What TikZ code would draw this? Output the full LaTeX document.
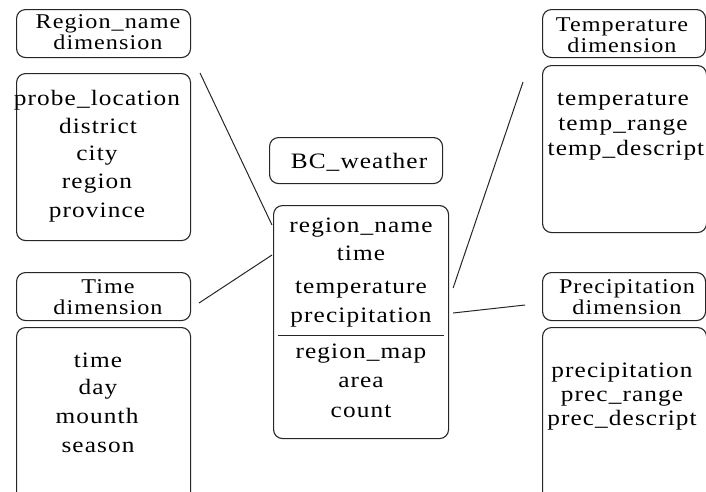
\documentclass[tikz,border=0pt]{standalone}
\usepackage{fontspec}
\newfontfamily\diagfont{Liberation Serif}[FakeStretch=1.15,LetterSpace=5]
\begin{document}
\begin{tikzpicture}[x=1pt,y=-1pt,
  box/.style={draw=black!85, line width=1.1pt, rounded corners=9pt, inner sep=0pt, anchor=north west},
  lbl/.style={font=\diagfont\fontsize{22}{22}\selectfont, inner sep=0pt, anchor=base},
  head/.style={font=\diagfont\fontsize{21}{20.5}\selectfont, inner sep=0pt, align=center, anchor=center},
  link/.style={draw=black!85, line width=1pt}]
\useasboundingbox (0,0) rectangle (706,491);
\clip (0,0) rectangle (706,491);

% Region_name dimension
\node[box, minimum width=174pt, minimum height=48pt] (rhead) at (16,9) {};
\node[box, minimum width=174pt, minimum height=167pt] (rbody) at (16,73) {};
\node[head] (rh) at (108,32) {Region\_name\\dimension};
\node[lbl] (rb1) at (97,105) {probe\_location};
\node[lbl] (rb2) at (98,133) {district};
\node[lbl] (rb3) at (97,160) {city};
\node[lbl] (rb4) at (97,188) {region};
\node[lbl] (rb5) at (97,217) {province};

% Time dimension
\node[box, minimum width=174pt, minimum height=48pt] (thead) at (16,272) {};
\node[box, minimum width=174pt, minimum height=200pt] (tbody) at (16,327) {};
\node[head] (th) at (108,297) {Time\\dimension};
\node[lbl] (tb1) at (98,367) {time};
\node[lbl] (tb2) at (98,394) {day};
\node[lbl] (tb3) at (97,423) {mounth};
\node[lbl] (tb4) at (98,452) {season};

% BC_weather fact table
\node[box, minimum width=173pt, minimum height=46pt] (fhead) at (269,137) {};
\node[lbl] (fh1) at (359,168) {BC\_weather};
\node[box, minimum width=175pt, minimum height=233pt] (mbody) at (273,205) {};
\node[lbl] (m1) at (361,232) {region\_name};
\node[lbl] (m2) at (361,260) {time};
\node[lbl] (m3) at (361,293) {temperature};
\node[lbl] (m4) at (361,322) {precipitation};
\node[lbl] (m5) at (361,358) {region\_map};
\node[lbl] (m6) at (361,387) {area};
\node[lbl] (m7) at (361,417) {count};
\draw[link] ([xshift=5pt,yshift=-130pt]mbody.north west) -- ([xshift=-5pt,yshift=-130pt]mbody.north east);

% Temperature dimension
\node[box, minimum width=163pt, minimum height=48pt] (ehead) at (542,9) {};
\node[box, minimum width=164pt, minimum height=167pt] (ebody) at (542,65) {};
\node[head] (eh) at (622,35) {Temperature\\dimension};
\node[lbl] (eb1) at (623,105) {temperature};
\node[lbl] (eb2) at (623,130) {temp\_range};
\node[lbl] (eb3) at (626,155) {temp\_descript};

% Precipitation dimension
\node[box, minimum width=163pt, minimum height=48pt] (phead) at (542,272) {};
\node[box, minimum width=164pt, minimum height=200pt] (pbody) at (542,327) {};
\node[head] (ph) at (627,297) {Precipitation\\dimension};
\node[lbl] (pb1) at (622,377) {precipitation};
\node[lbl] (pb2) at (622,401) {prec\_range};
\node[lbl] (pb3) at (622,425) {prec\_descript};

% connectors between the dimensions and the fact table
\coordinate (rend) at (200,73);
\coordinate (tend) at (199,303);
\coordinate (eend) at (523,82);
\coordinate (pend) at (525,305);
\draw[link] (rend) -- ([xshift=-1pt,yshift=-20pt]mbody.north west);
\draw[link] (tend) -- ([xshift=-1pt,yshift=-50pt]mbody.north west);
\draw[link] (eend) -- ([xshift=4pt,yshift=-83pt]mbody.north east);
\draw[link] (pend) -- ([xshift=4pt,yshift=-108pt]mbody.north east);
\end{tikzpicture}
\end{document}
